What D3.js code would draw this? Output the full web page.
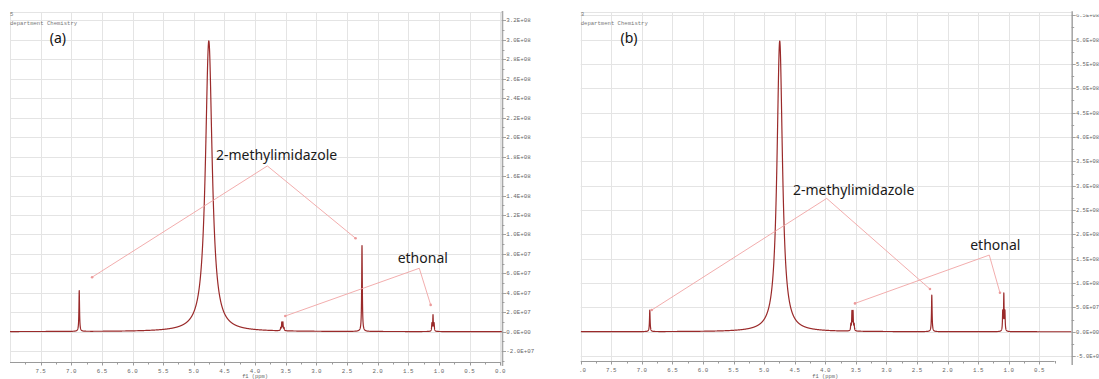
<!DOCTYPE html>
<html>
<head>
<meta charset="utf-8">
<script src="https://cdn.jsdelivr.net/npm/d3@7/dist/d3.min.js"></script>
<style>
  html, body { margin: 0; padding: 0; background: #fff; }
  svg { display: block; }
</style>
</head>
<body>
<svg id="chart" width="1099" height="379"></svg>
<script>
// ---------------------------------------------------------------
// 1H NMR spectra of two samples (D2O), intensity vs chemical shift
// ---------------------------------------------------------------

// Sample (a): resonance lines — chemical shift (ppm), height, half width (ppm)
const shiftsA  = [6.870, 4.755, 3.582, 3.564, 3.546, 3.528, 2.255, 1.114, 1.096, 1.078];
const heightsA = [4.2e7, 2.99e8, 2.8e6, 8.4e6, 8.4e6, 2.8e6, 8.84e7, 7.8e6, 1.63e7, 7.8e6];
const widthsA  = [0.006, 0.066, 0.005, 0.005, 0.005, 0.005, 0.006, 0.005, 0.005, 0.005];

// Sample (b)
const shiftsB  = [6.870, 4.745, 3.582, 3.564, 3.546, 3.528, 2.258, 1.098, 1.080, 1.062];
const heightsB = [4.4e7, 5.97e8, 1.3e7, 3.9e7, 3.9e7, 1.3e7, 7.5e7, 3.9e7, 7.4e7, 3.9e7];
const widthsB  = [0.006, 0.054, 0.005, 0.005, 0.005, 0.005, 0.006, 0.005, 0.005, 0.005];

// Axis ticks
const xTicksA = [7.5, 7.0, 6.5, 6.0, 5.5, 5.0, 4.5, 4.0, 3.5, 3.0, 2.5, 2.0, 1.5, 1.0, 0.5, 0.0];
const xTicksB = [8.0, 7.5, 7.0, 6.5, 6.0, 5.5, 5.0, 4.5, 4.0, 3.5, 3.0, 2.5, 2.0, 1.5, 1.0, 0.5];
const yTicksA = [-2e7, 0, 2e7, 4e7, 6e7, 8e7, 1.0e8, 1.2e8, 1.4e8, 1.6e8, 1.8e8,
                 2.0e8, 2.2e8, 2.4e8, 2.6e8, 2.8e8, 3.0e8, 3.2e8];
const yTicksB = [-5e7, 0, 5e7, 1.0e8, 1.5e8, 2.0e8, 2.5e8, 3.0e8, 3.5e8, 4.0e8,
                 4.5e8, 5.0e8, 5.5e8, 6.0e8, 6.5e8];

// Annotations: label anchor [ppm, intensity], bend point, and end points of the leader lines
const annotA = [
  { text: "2-methylimidazole", at: [3.65, 1.76e8], bend: [3.80, 1.704e8],
    ends: [[6.66, 5.6e7], [2.36, 9.6e7]] },
  { text: "ethonal", at: [1.263, 7.1e7], bend: [1.32, 6.52e7],
    ends: [[3.507, 1.61e7], [1.134, 2.75e7]] }
];
const annotB = [
  { text: "2-methylimidazole", at: [3.536, 2.807e8], bend: [3.977, 2.739e8],
    ends: [[6.839, 4.46e7], [2.288, 8.77e7]] },
  { text: "ethonal", at: [1.219, 1.678e8], bend: [1.318, 1.575e8],
    ends: [[3.514, 5.83e7], [1.143, 8.0e7]] }
];

const headerA = ["5", "department Chemistry"];
const headerB = ["3", "department Chemistry"];

// ---------------------------------------------------------------
const svg = d3.select("#chart");

const panels = [
  {
    id: "a", tag: "(a)", header: headerA,
    shifts: shiftsA, heights: heightsA, widths: widthsA,
    xTicks: xTicksA, yTicks: yTicksA, annot: annotA,
    xDomain: [8.0, -0.03], xRange: [10, 502],
    yDomain: [-3.12e7, 3.287e8], yRange: [362, 12],
    axisEnd: 0.0, yStep: 2e7, clipLeft: 0, labelTop: 0, labelSize: 5.8
  },
  {
    id: "b", tag: "(b)", header: headerB,
    shifts: shiftsB, heights: heightsB, widths: widthsB,
    xTicks: xTicksB, yTicks: yTicksB, annot: annotB,
    xDomain: [8.0, -0.03], xRange: [580.7, 1071.7],
    yDomain: [-6.0e7, 6.56e8], yRange: [361, 12.3],
    axisEnd: 0.25, yStep: 5e7, clipLeft: 579.5, labelTop: 14.5, labelSize: 5.5
  }
];

// scientific label such as 3.2E+08
function sci(v) {
  if (v === 0) return "0.0E+00";
  const sign = v < 0 ? "-" : "";
  let a = Math.abs(v);
  let e = Math.floor(Math.log10(a) + 1e-9);
  let m = a / Math.pow(10, e);
  if (Math.round(m * 10) / 10 >= 10) { m /= 10; e += 1; }
  return sign + m.toFixed(1) + "E+" + String(e).padStart(2, "0");
}

// Lorentzian line sum over the full shift window
function spectrum(shifts, heights, widths, hi, lo) {
  const xs = d3.range(hi, lo, -0.0008).concat(shifts);
  xs.sort((p, q) => q - p);
  return xs.map(p => [p, d3.sum(shifts, (s, i) => heights[i] / (1 + ((p - s) / widths[i]) ** 2))]);
}

const monoFont = "'Liberation Mono', 'DejaVu Sans Mono', monospace";

panels.forEach(P => {
  const x = d3.scaleLinear().domain(P.xDomain).range(P.xRange);
  const y = d3.scaleLinear().domain(P.yDomain).range(P.yRange);
  const left = P.xRange[0], right = P.xRange[1];
  const top = P.yRange[1], bottom = P.yRange[0];

  const g = svg.append("g").attr("class", "panel-" + P.id);

  // clip regions
  const defs = svg.append("defs");
  const clipId = "clip-" + P.id;
  defs.append("clipPath").attr("id", clipId)
    .append("rect").attr("x", P.clipLeft).attr("y", 0)
    .attr("width", right + 40 - P.clipLeft).attr("height", 379);
  const labelClip = "lclip-" + P.id;
  defs.append("clipPath").attr("id", labelClip)
    .append("rect").attr("x", right).attr("y", P.labelTop)
    .attr("width", 60).attr("height", 379);
  const plotClip = "pclip-" + P.id;
  defs.append("clipPath").attr("id", plotClip)
    .append("rect").attr("x", left).attr("y", top)
    .attr("width", right - left).attr("height", bottom - top);

  const pg = g.append("g").attr("clip-path", `url(#${clipId})`);

  // grid
  const grid = pg.append("g").attr("stroke", "#e4e4e4").attr("stroke-width", 1);
  const vGrid = [P.xDomain[0]].concat(P.xTicks.filter(t => t !== P.xDomain[0]));
  grid.selectAll("line.v").data(vGrid).join("line").attr("class", "v")
    .attr("x1", d => Math.round(x(d)) + 0.5).attr("x2", d => Math.round(x(d)) + 0.5)
    .attr("y1", top).attr("y2", bottom);
  grid.selectAll("line.h").data(P.yTicks.filter(t => y(t) > top + 2)).join("line").attr("class", "h")
    .attr("x1", left).attr("x2", right)
    .attr("y1", d => Math.round(y(d)) + 0.5).attr("y2", d => Math.round(y(d)) + 0.5);
  grid.append("line").attr("x1", left).attr("x2", right)
    .attr("y1", Math.round(top) + 0.5).attr("y2", Math.round(top) + 0.5);

  // header lines
  const hdr = pg.append("g").attr("font-family", monoFont).attr("font-size", 5.6)
    .attr("fill", "#777");
  hdr.append("text").attr("x", left).attr("y", 16).text(P.header[0]);
  hdr.append("text").attr("x", left).attr("y", 25).text(P.header[1]);

  // panel tag
  pg.append("text").attr("x", x(7.35)).attr("y", 43)
    .attr("font-family", "'Noto Sans', 'Open Sans', sans-serif").attr("font-size", 14)
    .attr("fill", "#111").text(P.tag);

  // spectrum trace
  const data = spectrum(P.shifts, P.heights, P.widths, P.xDomain[0], P.xDomain[1]);
  pg.append("g").attr("clip-path", `url(#${plotClip})`)
    .append("path").datum(data)
    .attr("fill", "none").attr("stroke", "#9a2a2a").attr("stroke-width", 1.2)
    .attr("stroke-linejoin", "round")
    .attr("d", d3.line().x(d => x(d[0])).y(d => y(d[1])));

  // annotations
  const an = pg.append("g");
  P.annot.forEach(a => {
    a.ends.forEach(e => {
      an.append("line")
        .attr("x1", x(a.bend[0])).attr("y1", y(a.bend[1]))
        .attr("x2", x(e[0])).attr("y2", y(e[1]))
        .attr("stroke", "#f0a4a4").attr("stroke-width", 0.9);
      an.append("circle").attr("cx", x(e[0])).attr("cy", y(e[1])).attr("r", 1.3)
        .attr("fill", "#ec9a9a");
    });
    an.append("text").attr("x", x(a.at[0])).attr("y", y(a.at[1]))
      .attr("text-anchor", "middle")
      .attr("font-family", "'Noto Sans', 'Open Sans', sans-serif").attr("font-size", 14)
      .attr("fill", "#1a1a1a").text(a.text);
  });

  // bottom axis
  const xa = pg.append("g").attr("stroke", "#9a9a9a");
  const axEnd = x(P.axisEnd);
  xa.append("line").attr("x1", left).attr("x2", axEnd)
    .attr("y1", bottom + 0.5).attr("y2", bottom + 0.5).attr("stroke-width", 1);
  const allTicks = [];
  P.xTicks.forEach(t => { allTicks.push({ v: t, major: true }); });
  // quarter-ppm ticks between labelled ones
  const quarter = P.xTicks.map(t => t + 0.25).filter(t => t <= P.xDomain[0]);
  if (P.axisEnd < P.xTicks[P.xTicks.length - 1]) quarter.push(P.axisEnd);
  quarter.forEach(t => allTicks.push({ v: t, major: false }));
  xa.selectAll("line.t").data(allTicks).join("line").attr("class", "t")
    .attr("x1", d => Math.round(x(d.v)) + 0.5).attr("x2", d => Math.round(x(d.v)) + 0.5)
    .attr("y1", bottom).attr("y2", d => bottom + (d.major ? 3.5 : 2.5));
  pg.append("g").attr("font-family", monoFont).attr("font-size", 5.8).attr("fill", "#666")
    .selectAll("text").data(P.xTicks).join("text")
    .attr("x", d => x(d)).attr("y", bottom + 11).attr("text-anchor", "middle")
    .text(d => d.toFixed(1));
  pg.append("text").attr("x", x(4.0)).attr("y", 378).attr("text-anchor", "middle")
    .attr("font-family", monoFont).attr("font-size", 5.4).attr("fill", "#666")
    .text("f1 (ppm)");

  // right intensity axis
  const ya = g.append("g");
  ya.append("line").attr("x1", right + 0.5).attr("x2", right + 0.5)
    .attr("y1", top - 1).attr("y2", bottom + 4)
    .attr("stroke", "#a8a8a8").attr("stroke-width", 1.6);
  const yMinor = P.yTicks.map(t => t + P.yStep / 2).filter(t => y(t) > top);
  yMinor.push(P.yTicks[0] - P.yStep / 2);
  ya.selectAll("line.mj").data(P.yTicks).join("line").attr("class", "mj")
    .attr("x1", right).attr("x2", right + 4)
    .attr("y1", d => Math.round(y(d)) + 0.5).attr("y2", d => Math.round(y(d)) + 0.5)
    .attr("stroke", "#999").attr("stroke-width", 0.9);
  ya.selectAll("line.mn").data(yMinor.filter(t => y(t) < bottom + 3)).join("line").attr("class", "mn")
    .attr("x1", right).attr("x2", right + 2.5)
    .attr("y1", d => Math.round(y(d)) + 0.5).attr("y2", d => Math.round(y(d)) + 0.5)
    .attr("stroke", "#999").attr("stroke-width", 0.9);
  ya.append("g").attr("clip-path", `url(#${labelClip})`)
    .attr("font-family", monoFont).attr("font-size", P.labelSize).attr("fill", "#666")
    .selectAll("text").data(P.yTicks).join("text")
    .attr("x", right + 4.3).attr("y", d => y(d) + 2)
    .text(d => sci(d));
});
</script>
</body>
</html>
